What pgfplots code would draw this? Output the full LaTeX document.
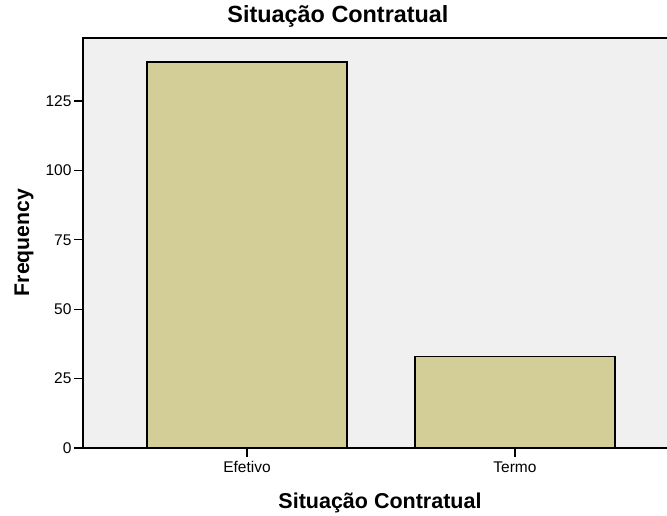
\documentclass[border=0pt]{standalone}
\usepackage{fontspec}
\setmainfont{Liberation Sans}
\usepackage{pgfplots}
\pgfplotsset{compat=1.18}
\definecolor{plotbg}{RGB}{240,240,240}
\definecolor{barfill}{RGB}{211,206,151}
\begin{document}
\begin{tikzpicture}
\path[use as bounding box] (0,0) rectangle (667pt,516pt);
\begin{axis}[
    at={(83pt,68pt)},
    anchor=south west,
    scale only axis,
    width=600pt,
    height=410pt,
    xmin=-0.612, xmax=1.627,
    ymin=0, ymax=147.7,
    xtick=data,
    xticklabels={Efetivo,Termo},
    ytick={0,25,50,75,100,125},
    tick pos=lower,
    tick align=outside,
    major tick length=9pt,
    tick style={black, line width=1.3pt},
    axis line style={black, line width=1.3pt},
    axis background/.style={fill=plotbg},
    /pgf/number format/assume math mode=true,
    tick label style={font=\fontsize{15.5}{18}\selectfont},
    yticklabel style={xshift=1pt},
    xticklabel style={yshift=-1pt},
    title={\textbf{Situação Contratual}},
    title style={at={(axis description cs:0.425,1.0237)}, anchor=base, font=\fontsize{23.4}{28}\selectfont},
    xlabel={\textbf{Situação Contratual}},
    xlabel style={at={(axis description cs:0.495,-0.147)}, anchor=base, font=\fontsize{21.5}{26}\selectfont},
    ylabel={\textbf{Frequency}},
    ylabel style={at={(axis description cs:-0.0983,0.501)}, anchor=center, font=\fontsize{21.2}{26}\selectfont},
]
\addplot[ybar, bar width=200pt, fill=barfill, draw=black, line width=1.3pt] coordinates {
(0,139) (1,33)
};
\end{axis}
\end{tikzpicture}
\end{document}
